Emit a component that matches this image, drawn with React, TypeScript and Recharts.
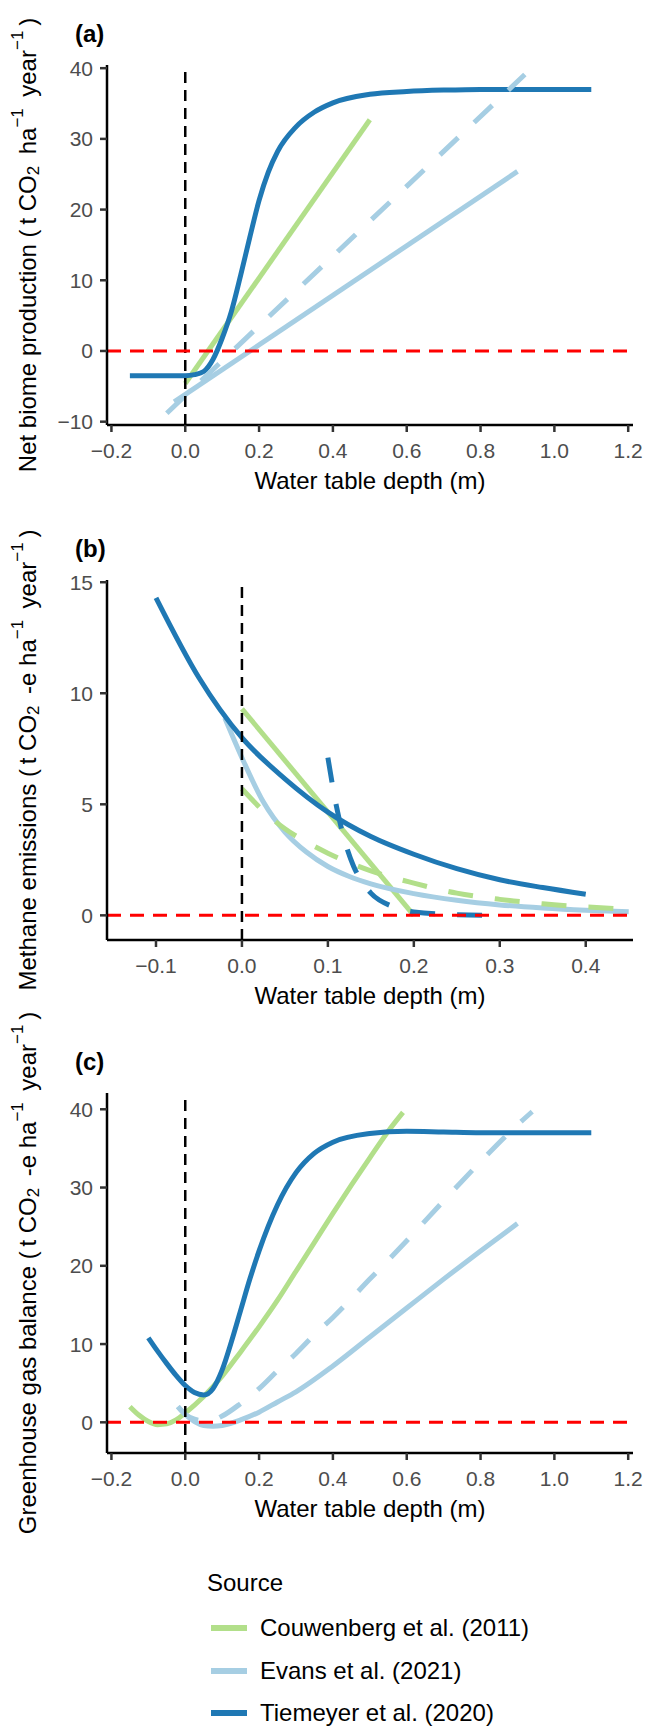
import React from "react";
import { LineChart, Line, XAxis, YAxis, ReferenceLine } from "recharts";

const FONT = '"Liberation Sans", Arial, Helvetica, sans-serif';
const DARK_BLUE = "#1f78b4";
const LIGHT_BLUE = "#a6cee3";
const GREEN = "#b2df8a";

// tick values and labels
const depthTicks = [-0.2, 0, 0.2, 0.4, 0.6, 0.8, 1.0, 1.2];
const depthTickLabels = ["−0.2", "0.0", "0.2", "0.4", "0.6", "0.8", "1.0", "1.2"];
const ch4DepthTicks = [-0.1, 0, 0.1, 0.2, 0.3, 0.4];
const ch4DepthTickLabels = ["−0.1", "0.0", "0.1", "0.2", "0.3", "0.4"];
const nbpTicks = [-10, 0, 10, 20, 30, 40];
const nbpTickLabels = ["−10", "0", "10", "20", "30", "40"];
const ch4Ticks = [0, 5, 10, 15];
const ch4TickLabels = ["0", "5", "10", "15"];
const ghgTicks = [0, 10, 20, 30, 40];
const ghgTickLabels = ["0", "10", "20", "30", "40"];

const sources = ["Couwenberg et al. (2011)", "Evans et al. (2021)", "Tiemeyer et al. (2020)"];

// (a) net biome production
const nbpCouwX = [0, 0.5];
const nbpCouwY = [-4.6, 32.7];
const nbpEvansX = [-0.03, 0.9];
const nbpEvansY = [-7.2, 25.4];
const nbpEvansDashX = [-0.05, 0.92];
const nbpEvansDashY = [-8.8, 39.1];
const nbpTiemX = [-0.15, -0.1, -0.05, 0, 0.025, 0.05, 0.075, 0.1, 0.125, 0.15, 0.175, 0.2, 0.225, 0.25, 0.3, 0.35, 0.4, 0.5, 0.6, 0.7, 0.8, 0.9, 1.0, 1.1];
const nbpTiemY = [-3.5, -3.5, -3.5, -3.5, -3.35, -2.9, -1.2, 1.8, 5.6, 10.7, 16.1, 21.3, 25.3, 28.2, 31.7, 33.8, 35.1, 36.3, 36.7, 36.9, 37, 37, 37, 37];

// (b) methane emissions
const ch4CouwX = [0, 0.2];
const ch4CouwY = [9.3, 0];
const ch4CouwDashX = [0, 0.025, 0.05, 0.075, 0.1, 0.15, 0.2, 0.25, 0.3, 0.35, 0.4, 0.45];
const ch4CouwDashY = [5.7, 4.7, 3.9, 3.3, 2.8, 2.0, 1.45, 1.0, 0.72, 0.52, 0.38, 0.28];
const ch4EvansX = [-0.02, 0, 0.025, 0.05, 0.075, 0.1, 0.125, 0.15, 0.2, 0.25, 0.3, 0.35, 0.4, 0.45];
const ch4EvansY = [8.9, 7.1, 5.1, 3.75, 2.85, 2.2, 1.75, 1.42, 0.98, 0.68, 0.47, 0.33, 0.23, 0.16];
const ch4TiemX = [-0.1, -0.05, 0, 0.05, 0.1, 0.15, 0.2, 0.25, 0.3, 0.35, 0.4];
const ch4TiemY = [14.3, 10.7, 8.0, 6.15, 4.65, 3.55, 2.75, 2.1, 1.6, 1.25, 0.95];
const ch4TiemDashX = [0.1, 0.11, 0.12, 0.13, 0.14, 0.15, 0.175, 0.2, 0.25, 0.3];
const ch4TiemDashY = [7.1, 4.9, 3.3, 2.2, 1.5, 1.0, 0.4, 0.15, 0.03, 0.0];

// (c) greenhouse gas balance
const ghgCouwX = [-0.15, -0.125, -0.1, -0.075, -0.05, -0.025, 0, 0.05, 0.1, 0.15, 0.2, 0.25, 0.3, 0.35, 0.4, 0.45, 0.5, 0.55, 0.59];
const ghgCouwY = [2.0, 0.9, 0.1, -0.3, -0.2, 0.3, 1.2, 3.3, 5.9, 9.0, 12.2, 15.6, 19.3, 23.0, 26.7, 30.3, 33.8, 37.2, 39.6];
const ghgEvansX = [-0.02, 0, 0.025, 0.05, 0.075, 0.1, 0.15, 0.2, 0.25, 0.3, 0.4, 0.5, 0.6, 0.7, 0.8, 0.9];
const ghgEvansY = [2.0, 1.0, 0.1, -0.4, -0.5, -0.4, 0.3, 1.3, 2.6, 3.9, 7.2, 10.9, 14.6, 18.3, 21.9, 25.4];
const ghgEvansDashX = [-0.02, 0, 0.025, 0.05, 0.075, 0.1, 0.15, 0.2, 0.25, 0.3, 0.35, 0.4, 0.5, 0.6, 0.7, 0.8, 0.9, 0.94];
const ghgEvansDashY = [2.0, 1.0, 0.4, 0.2, 0.3, 0.8, 2.4, 4.3, 6.6, 8.8, 11.2, 13.4, 18.3, 23.2, 28.3, 33.3, 38.0, 39.7];
const ghgTiemX = [-0.1, -0.075, -0.05, -0.025, 0, 0.025, 0.05, 0.075, 0.1, 0.125, 0.15, 0.175, 0.2, 0.25, 0.3, 0.35, 0.4, 0.5, 0.6, 0.7, 0.8, 0.9, 1.0, 1.1];
const ghgTiemY = [10.8, 9.1, 7.5, 6.0, 4.7, 3.8, 3.5, 4.3, 6.7, 10.3, 14.3, 18.3, 21.9, 27.8, 31.9, 34.4, 35.8, 36.9, 37.2, 37.1, 37.0, 37.0, 37.0, 37.0];

const zip = (xs: number[], ys: number[]) => xs.map((x, i) => ({ x, y: ys[i] }));

type Series = { key: string; color: string; dashed?: boolean; curve?: boolean; data: { x: number; y: number }[] };

const MT = 100; // chart top margin, leaves room for the long rotated titles
const PH = 360; // panel height
const XH = 130; // room under the panel
const LEFT = 107;
const RIGHT = 633;
const THIN = "\u2009";

function labelFor(ticks: number[], labels: string[], v: number) {
  const i = ticks.findIndex((t) => Math.abs(t - v) < 1e-9);
  return i >= 0 ? labels[i] : String(v);
}

function YTitle({ children }: { children?: React.ReactNode; viewBox?: unknown }) {
  const cx = 27;
  const cy = MT + PH / 2;
  return (
    <text
      x={cx}
      y={cy}
      transform={`rotate(-90, ${cx}, ${cy})`}
      textAnchor="middle"
      dominantBaseline="central"
      fontSize={24}
      fontFamily={FONT}
      fill="#000"
    >
      {children}
    </text>
  );
}

function XTitle(_: { viewBox?: unknown }) {
  return (
    <text
      x={(LEFT + RIGHT) / 2}
      y={MT + PH + 55}
      textAnchor="middle"
      dominantBaseline="central"
      fontSize={24}
      fontFamily={FONT}
      fill="#000"
    >
      Water table depth (m)
    </text>
  );
}

const Sub = ({ t }: { t: string }) => (
  <>
    <tspan fontSize={17} dy={6}>{t}</tspan>
    <tspan dy={-6}>{THIN}</tspan>
  </>
);
const Sup = ({ t }: { t: string }) => (
  <>
    <tspan fontSize={17} dy={-10}>{t}</tspan>
    <tspan dy={10}>{THIN}</tspan>
  </>
);

interface PanelProps {
  top: number;
  tag: string;
  title: React.ReactNode;
  xDomain: [number, number];
  yDomain: [number, number];
  xTicks: number[];
  xLabels: string[];
  yTicks: number[];
  yLabels: string[];
  series: Series[];
}

function Panel({ top, tag, title, xDomain, yDomain, xTicks, xLabels, yTicks, yLabels, series }: PanelProps) {
  return (
    <>
      <div
        style={{
          position: "absolute",
          left: 75,
          top: top - 43,
          fontSize: 24,
          lineHeight: "24px",
          fontWeight: 700,
          fontFamily: FONT,
          color: "#000",
        }}
      >
        {tag}
      </div>
      <div style={{ position: "absolute", left: 0, top: top - MT }}>
        <LineChart width={646} height={MT + PH + XH} margin={{ top: MT, right: 646 - RIGHT, bottom: 0, left: 0 }}>
          <XAxis
            type="number"
            dataKey="x"
            domain={xDomain}
            ticks={xTicks}
            interval={0}
            allowDataOverflow
            height={XH}
            axisLine={{ stroke: "#000", strokeWidth: 2.5 }}
            tickLine={{ stroke: "#333", strokeWidth: 2.5 }}
            tickSize={7}
            tickMargin={0}
            tick={(p: any) => (
              <text
                x={p.x}
                y={p.y + 18}
                textAnchor="middle"
                dominantBaseline="central"
                fontSize={21}
                fontFamily={FONT}
                fill="#4d4d4d"
              >
                {labelFor(xTicks, xLabels, p.payload.value)}
              </text>
            )}
            label={<XTitle />}
          />
          <YAxis
            type="number"
            dataKey="y"
            domain={yDomain}
            ticks={yTicks}
            interval={0}
            allowDataOverflow
            width={LEFT}
            axisLine={{ stroke: "#000", strokeWidth: 2.5 }}
            tickLine={{ stroke: "#333", strokeWidth: 2.5 }}
            tickSize={7}
            tickMargin={7}
            tick={(p: any) => (
              <text
                x={p.x}
                y={p.y}
                textAnchor="end"
                dominantBaseline="central"
                fontSize={21}
                fontFamily={FONT}
                fill="#4d4d4d"
              >
                {labelFor(yTicks, yLabels, p.payload.value)}
              </text>
            )}
            label={<YTitle>{title}</YTitle>}
          />
          {series.map((s) => (
            <Line
              key={s.key}
              data={s.data}
              dataKey="y"
              type={s.curve ? "monotone" : "linear"}
              stroke={s.color}
              strokeWidth={5}
              strokeDasharray={s.dashed ? "25 22" : undefined}
              strokeLinejoin="round"
              dot={false}
              activeDot={false}
              isAnimationActive={false}
            />
          ))}
          <ReferenceLine x={0} stroke="#000" strokeWidth={2.5} strokeDasharray="11 7" />
          <ReferenceLine y={0} stroke="#ff0000" strokeWidth={3} strokeDasharray="14 9" />
        </LineChart>
      </div>
    </>
  );
}

const nbpSeries: Series[] = [
  { key: "couw", color: GREEN, data: zip(nbpCouwX, nbpCouwY) },
  { key: "evans", color: LIGHT_BLUE, data: zip(nbpEvansX, nbpEvansY) },
  { key: "tiem", color: DARK_BLUE, curve: true, data: zip(nbpTiemX, nbpTiemY) },
  { key: "evansDash", color: LIGHT_BLUE, dashed: true, data: zip(nbpEvansDashX, nbpEvansDashY) },
];

const ch4Series: Series[] = [
  { key: "couw", color: GREEN, data: zip(ch4CouwX, ch4CouwY) },
  { key: "evans", color: LIGHT_BLUE, curve: true, data: zip(ch4EvansX, ch4EvansY) },
  { key: "tiem", color: DARK_BLUE, curve: true, data: zip(ch4TiemX, ch4TiemY) },
  { key: "couwDash", color: GREEN, dashed: true, curve: true, data: zip(ch4CouwDashX, ch4CouwDashY) },
  { key: "tiemDash", color: DARK_BLUE, dashed: true, curve: true, data: zip(ch4TiemDashX, ch4TiemDashY) },
];

const ghgSeries: Series[] = [
  { key: "couw", color: GREEN, curve: true, data: zip(ghgCouwX, ghgCouwY) },
  { key: "evans", color: LIGHT_BLUE, curve: true, data: zip(ghgEvansX, ghgEvansY) },
  { key: "tiem", color: DARK_BLUE, curve: true, data: zip(ghgTiemX, ghgTiemY) },
  { key: "evansDash", color: LIGHT_BLUE, dashed: true, curve: true, data: zip(ghgEvansDashX, ghgEvansDashY) },
];

const legendColors = [GREEN, LIGHT_BLUE, DARK_BLUE];
const legendRows = [1628, 1671, 1713];

export default function App() {
  return (
    <div
      style={{
        position: "absolute",
        left: 0,
        top: 0,
        width: 646,
        height: 1729,
        background: "#fff",
        fontFamily: FONT,
        overflow: "hidden",
      }}
    >
      <Panel
        top={65}
        tag="(a)"
        title={
          <>
            {`Net biome production (${THIN}t CO`}
            <Sub t="2" /> ha
            <Sup t="−1" /> year
            <Sup t="−1" />
            {")"}
          </>
        }
        xDomain={[-0.212, 1.213]}
        yDomain={[-10.47, 40.45]}
        xTicks={depthTicks}
        xLabels={depthTickLabels}
        yTicks={nbpTicks}
        yLabels={nbpTickLabels}
        series={nbpSeries}
      />
      <Panel
        top={580}
        tag="(b)"
        title={
          <>
            {`Methane emissions (${THIN}t CO`}
            <Sub t="2" /> -e ha
            <Sup t="−1" /> year
            <Sup t="−1" />
            {")"}
          </>
        }
        xDomain={[-0.157, 0.455]}
        yDomain={[-1.11, 15.1]}
        xTicks={ch4DepthTicks}
        xLabels={ch4DepthTickLabels}
        yTicks={ch4Ticks}
        yLabels={ch4TickLabels}
        series={ch4Series}
      />
      <Panel
        top={1093}
        tag="(c)"
        title={
          <>
            {`Greenhouse gas balance (${THIN}t CO`}
            <Sub t="2" /> -e ha
            <Sup t="−1" /> year
            <Sup t="−1" />
            {")"}
          </>
        }
        xDomain={[-0.212, 1.213]}
        yDomain={[-3.92, 42.08]}
        xTicks={depthTicks}
        xLabels={depthTickLabels}
        yTicks={ghgTicks}
        yLabels={ghgTickLabels}
        series={ghgSeries}
      />
      <div style={{ position: "absolute", left: 207, top: 1583 - 14, fontSize: 24, lineHeight: "28px", color: "#000" }}>
        Source
      </div>
      {sources.map((s, i) => (
        <React.Fragment key={s}>
          <div
            style={{
              position: "absolute",
              left: 211,
              top: legendRows[i] - 3,
              width: 36,
              height: 6,
              background: legendColors[i],
            }}
          />
          <div
            style={{
              position: "absolute",
              left: 260,
              top: legendRows[i] - 14,
              fontSize: 24,
              lineHeight: "28px",
              color: "#000",
              whiteSpace: "nowrap",
            }}
          >
            {s}
          </div>
        </React.Fragment>
      ))}
    </div>
  );
}
